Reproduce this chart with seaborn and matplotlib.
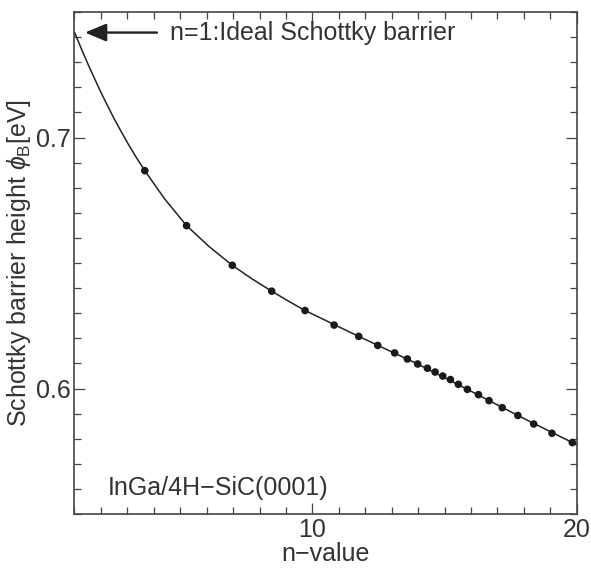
import numpy as np
import pandas as pd
import matplotlib
matplotlib.use("Agg")
import matplotlib.pyplot as plt
from matplotlib.ticker import MultipleLocator
import seaborn as sns

# measured points (markers)
n_points = [3.66, 5.24, 6.97, 8.46, 9.72, 10.82, 11.75, 12.47, 13.11, 13.59,
            13.98, 14.35, 14.64, 14.93, 15.22, 15.52, 15.86, 16.28, 16.68,
            17.18, 17.77, 18.37, 19.06, 19.83]
phi_points = [0.6868, 0.6649, 0.6491, 0.6388, 0.6311, 0.6253, 0.6208, 0.6172,
              0.6142, 0.6118, 0.6098, 0.6081, 0.6066, 0.6050, 0.6036, 0.6017,
              0.5997, 0.5976, 0.5952, 0.5924, 0.5893, 0.5859, 0.5822, 0.5785]

# fitted curve
n_curve = [1.0, 1.25, 1.5, 1.75, 2.0, 2.25, 2.5, 2.75, 3.0, 3.33, 3.66, 4.4,
           5.24, 6.1, 6.97, 7.7, 8.46, 9.1, 9.72, 11.75, 13.98, 15.86, 17.77,
           19.83, 20.0]
phi_curve = [0.7420, 0.7356, 0.7295, 0.7237, 0.7180, 0.7127, 0.7075, 0.7027,
             0.6980, 0.6922, 0.6868, 0.6757, 0.6649, 0.6565, 0.6491, 0.6438,
             0.6388, 0.6348, 0.6311, 0.6208, 0.6098, 0.5997, 0.5893, 0.5785,
             0.5776]

pts = pd.DataFrame({"n": n_points, "phi": phi_points})
fit = pd.DataFrame({"n": n_curve, "phi": phi_curve})

sns.set_theme(style="ticks")
plt.rcParams["font.family"] = ["Liberation Sans", "DejaVu Sans"]
plt.rcParams["mathtext.fontset"] = "custom"
plt.rcParams["mathtext.rm"] = "Liberation Sans"
plt.rcParams["mathtext.it"] = "Liberation Sans:italic"

TXT = "#333333"
fig = plt.figure(figsize=(5.91, 5.70), dpi=100)
ax = fig.add_axes([0.126, 0.098, 0.850, 0.881])

sns.lineplot(data=fit, x="n", y="phi", sort=False, estimator=None,
             color="#222222", linewidth=1.1, ax=ax)
sns.scatterplot(data=pts, x="n", y="phi", color="#1a1a1a", s=30,
                edgecolor="none", zorder=3, ax=ax)

ax.set_xlim(1, 20)
ax.set_ylim(0.55, 0.75)
ax.xaxis.set_major_locator(MultipleLocator(10))
ax.xaxis.set_minor_locator(MultipleLocator(1))
ax.yaxis.set_major_locator(MultipleLocator(0.1))
ax.yaxis.set_minor_locator(MultipleLocator(0.01))
ax.tick_params(which="both", direction="in", top=True, right=True,
               colors="#444444", labelcolor=TXT, labelsize=18, width=0.9)
ax.tick_params(which="major", length=8, pad=3)
ax.tick_params(which="minor", length=5)
for sp in ax.spines.values():
    sp.set_color("#444444")
    sp.set_linewidth(1.2)

ax.set_xlabel("n\u2212value", fontsize=18, color=TXT, labelpad=0)
ax.set_ylabel(r"Schottky barrier height $\phi_{\mathrm{B}}$[eV]", fontsize=18,
              color=TXT, labelpad=2)

ax.annotate("", xy=(1.40, 0.7418), xytext=(4.12, 0.7418),
            arrowprops=dict(arrowstyle="-|>,head_length=1.0,head_width=0.42",
                            color="#222222", lw=1.7, mutation_scale=13,
                            shrinkA=0, shrinkB=0))
ax.text(4.6, 0.7418, "n=1:Ideal Schottky barrier", fontsize=18, color=TXT,
        va="center", ha="left")
ax.text(2.25, 0.5605, "InGa/4H\u2212SiC(0001)", fontsize=18, color=TXT,
        va="center", ha="left")

fig.savefig("out.png", dpi=100)
